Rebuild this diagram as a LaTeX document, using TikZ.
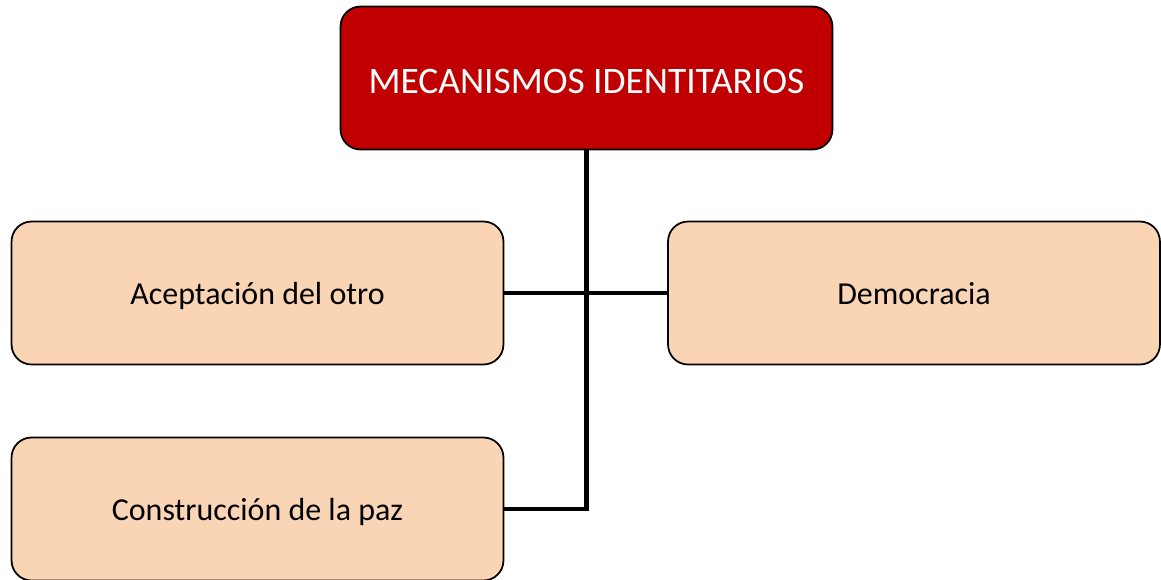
\documentclass[tikz,border=0pt]{standalone}
\usepackage{fontspec}
\setmainfont{Carlito}
\usepackage{xcolor}
\usetikzlibrary{positioning, calc}

\definecolor{mecared}{HTML}{C00000}
\definecolor{mecapeach}{HTML}{FAD5B5}

\begin{document}
\begin{tikzpicture}[
		x=0.02cm, y=-0.02cm,
		box/.style={draw=black, line width=1pt, rounded corners=0.4cm,
			minimum width=9.84cm, minimum height=2.86cm, inner sep=0pt, text depth=0pt},
		head/.style={box, fill=mecared, text=white, text height=0.62cm,
			font=\fontsize{21.3}{24}\selectfont},
		item/.style={box, fill=mecapeach, text=black, text height=0.47cm,
			font=\fontsize{18.2}{21}\selectfont},
		link/.style={line width=2.4pt}
		]
		
		\useasboundingbox (0,0) rectangle (1161,579);
		
		% ==========================================
		% TITLE
		% ==========================================
		\node[head] (meca) at (586.5,78) {MECANISMOS IDENTITARIOS};
		
		% ==========================================
		% MECHANISMS
		% ==========================================
		\node[item] (otro) at (257.5,293) {Aceptación del otro};
		\node[item] (demo) at (914,293) {Democracia};
		\node[item] (paz) at (257.5,509) {Construcción de la paz};
		
		% ==========================================
		% CONNECTORS
		% ==========================================
		\draw[link] (otro.east) -- (demo.west);
		\draw[link] (meca.south) -- (meca.south |- paz.east) -- (paz.east);
		
	\end{tikzpicture}
\end{document}
